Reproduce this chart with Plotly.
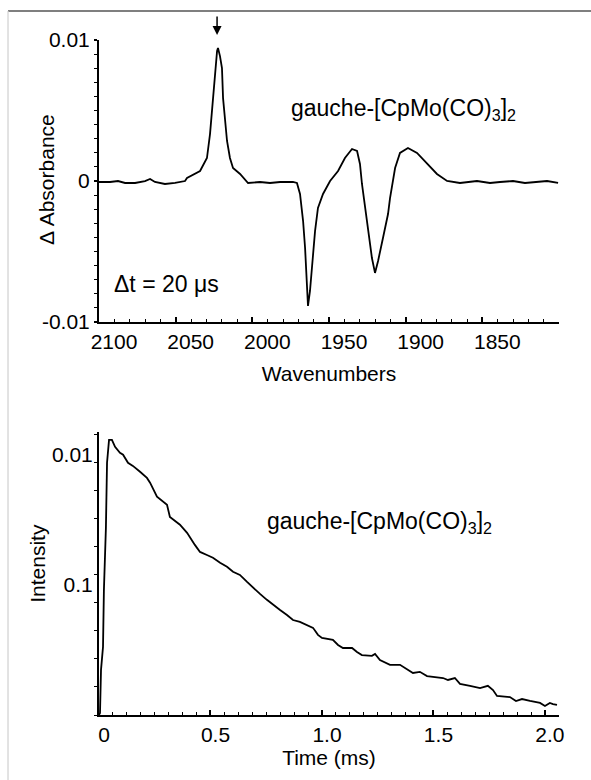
import plotly.graph_objects as go
from plotly.subplots import make_subplots

# ---- Top panel: transient IR difference spectrum ----
wavenumber = [2100.0, 2092.8, 2087.6, 2083.0, 2076.5, 2070.0, 2066.7, 2063.5, 2057.0, 2050.4,
              2043.9, 2042.6, 2034.1, 2029.6, 2027.6, 2025.6, 2024.3, 2023.0, 2022.4, 2021.1,
              2019.8, 2019.1, 2016.5, 2014.6, 2012.6, 2008.0, 2002.8, 1995.0, 1988.5, 1981.9,
              1973.5, 1970.9, 1968.9, 1966.9, 1965.6, 1964.3, 1963.7, 1962.4, 1961.1, 1959.1,
              1957.2, 1953.9, 1949.3, 1944.1, 1939.6, 1935.0, 1931.7, 1929.8, 1928.5, 1926.5,
              1924.6, 1922.0, 1920.0, 1918.0, 1914.8, 1911.5, 1910.2, 1908.3, 1906.9, 1903.7,
              1898.5, 1892.6, 1886.1, 1879.6, 1873.0, 1864.6, 1853.5, 1845.0, 1838.5, 1830.0,
              1822.2, 1807.8, 1800.6]
delta_abs = [-0.00007, -0.00007, 0.0, -0.00014, -0.00014, 0.0, 0.00014, -0.00007, -0.00021, -0.00014,
             0.0, 0.00021, 0.00071, 0.00163, 0.00333, 0.00617, 0.00801, 0.00922, 0.00943, 0.00886,
             0.00801, 0.00588, 0.00284, 0.00163, 0.00092, 0.00050, -0.00014, -0.00007, -0.00014, -0.00007,
             -0.00007, -0.00014, -0.00092, -0.00284, -0.00475, -0.00709, -0.00886, -0.00780, -0.00588, -0.00355,
             -0.00191, -0.00092, 0.0, 0.00071, 0.00163, 0.00227, 0.00213, 0.00121, -0.00021, -0.00191,
             -0.00355, -0.00546, -0.00652, -0.00567, -0.00404, -0.00234, -0.00121, -0.00014, 0.00092, 0.00199,
             0.00234, 0.00199, 0.00121, 0.00050, 0.0, -0.00014, 0.0, -0.00014, -0.00007, 0.0,
             -0.00014, 0.0, -0.00014]

# ---- Bottom panel: kinetic trace (arbitrary units, axis labelled as in original) ----
time_ms = [0.0, 0.0045, 0.009, 0.018, 0.022, 0.031, 0.036, 0.045, 0.058, 0.072,
           0.094, 0.108, 0.130, 0.152, 0.184, 0.215, 0.229, 0.260, 0.305, 0.318,
           0.363, 0.395, 0.430, 0.453, 0.484, 0.511, 0.543, 0.574, 0.601, 0.632,
           0.664, 0.691, 0.722, 0.753, 0.780, 0.812, 0.843, 0.870, 0.901, 0.933,
           0.960, 0.982, 1.0, 1.049, 1.072, 1.094, 1.135, 1.157, 1.179, 1.224,
           1.238, 1.260, 1.305, 1.350, 1.372, 1.408, 1.439, 1.471, 1.543, 1.565,
           1.596, 1.619, 1.664, 1.709, 1.744, 1.767, 1.785, 1.843, 1.870, 1.897,
           1.933, 1.978, 2.0, 2.022, 2.036, 2.054]
intensity = [0.0, 0.07, 1.61, 2.43, 4.46, 6.68, 9.0, 9.82, 9.82, 9.57,
             9.36, 9.29, 9.0, 8.89, 8.68, 8.46, 8.29, 7.79, 7.5, 7.07,
             6.79, 6.5, 6.07, 5.82, 5.71, 5.61, 5.43, 5.29, 5.11, 5.0,
             4.75, 4.54, 4.32, 4.11, 3.93, 3.75, 3.57, 3.39, 3.32, 3.21,
             3.11, 2.86, 2.75, 2.68, 2.5, 2.39, 2.39, 2.25, 2.14, 2.11,
             2.18, 1.96, 1.79, 1.79, 1.68, 1.5, 1.54, 1.39, 1.32, 1.25,
             1.32, 1.11, 1.04, 0.96, 1.04, 0.89, 0.68, 0.64, 0.5, 0.57,
             0.5, 0.43, 0.32, 0.43, 0.39, 0.36]

top_xticks = [2100, 2050, 2000, 1950, 1900, 1850]
top_yticks = [-0.01, 0, 0.01]
top_yticktext = ["-0.01", "0", "0.01"]
bot_xticks = [0, 0.5, 1.0, 1.5, 2.0]
bot_xticktext = ["0", "0.5", "1.0", "1.5", "2.0"]
bot_yticks = [4.64, 9.29]
bot_yticktext = ["0.1", "0.01"]

FONT = "Liberation Sans, Arial, Helvetica, sans-serif"
FS = 21
FA = 23

fig = make_subplots(rows=2, cols=1, vertical_spacing=0.0)

fig.add_trace(go.Scatter(x=wavenumber, y=delta_abs, mode="lines",
                         line=dict(color="black", width=1.8), showlegend=False),
              row=1, col=1)
fig.add_trace(go.Scatter(x=time_ms, y=intensity, mode="lines",
                         line=dict(color="black", width=1.8), showlegend=False),
              row=2, col=1)

tickfont = dict(family=FONT, size=FS, color="black")

fig.update_layout(
    xaxis=dict(domain=[0, 1], anchor="y", range=[2100, 1800],
               showline=True, linecolor="black", linewidth=2, showgrid=False, zeroline=False,
               tickfont=tickfont, tickcolor="black",
               tickvals=top_xticks, ticks="inside", ticklen=5, tickwidth=1.5,
               ticklabelshift=-15,
               minor=dict(dtick=10, tick0=2100, ticks="inside", ticklen=3, tickwidth=1, tickcolor="black"),
               title=dict(text="Wavenumbers", font=dict(family=FONT, size=FS, color="black"), standoff=14)),
    yaxis=dict(domain=[0.5822, 1.0], anchor="x", range=[-0.01, 0.01],
               showline=True, linecolor="black", linewidth=2, showgrid=False, zeroline=False,
               tickfont=tickfont, tickcolor="black",
               tickvals=top_yticks, ticktext=top_yticktext, ticks="outside", ticklen=3, tickwidth=1.5,
               minor=dict(dtick=0.001, tick0=0, ticks="outside", ticklen=3, tickwidth=1, tickcolor="black")),
    xaxis2=dict(domain=[0, 1], anchor="y2", range=[0, 2.063],
                showline=True, linecolor="black", linewidth=2, showgrid=False, zeroline=False,
                tickfont=tickfont, tickcolor="black",
                tickvals=bot_xticks, ticktext=bot_xticktext, ticks="inside", ticklen=5, tickwidth=1.5,
                ticklabelshift=5,
                minor=dict(dtick=0.0625, tick0=0, ticks="inside", ticklen=3, tickwidth=1, tickcolor="black"),
                title=dict(text="Time (ms)", font=dict(family=FONT, size=FS, color="black"), standoff=2)),
    yaxis2=dict(domain=[0, 0.4193], anchor="x2", range=[0, 10.1],
                showline=True, linecolor="black", linewidth=2, showgrid=False, zeroline=False,
                tickfont=tickfont, tickcolor="black",
                tickvals=bot_yticks, ticktext=bot_yticktext, ticks="",
                minor=dict(dtick=1, tick0=0, ticks="outside", ticklen=3, tickwidth=1, tickcolor="black")),
    width=591, height=780,
    margin=dict(l=99, r=32, t=40, b=65),
    plot_bgcolor="white", paper_bgcolor="white",
    font=dict(family=FONT, size=FS, color="black"),
    showlegend=False,
)

# frame lines of the original figure
fig.add_shape(type="line", xref="paper", yref="paper", x0=-0.1978, x1=1.07, y0=1.043, y1=1.043,
              line=dict(color="#555555", width=1.5))
fig.add_shape(type="line", xref="paper", yref="paper", x0=-0.1978, x1=-0.1978, y0=1.043, y1=-0.1,
              line=dict(color="#d0d0d0", width=1.2))

# y axis titles (placed as in the original, close to the tick labels)
fig.add_annotation(x=-0.113, xref="paper", y=0.7926, yref="paper", text="Δ Absorbance",
                   textangle=-90, showarrow=False, xanchor="center", yanchor="middle",
                   font=dict(family=FONT, size=FS, color="black"))
fig.add_annotation(x=-0.133, xref="paper", y=0.2252, yref="paper", text="Intensity",
                   textangle=-90, showarrow=False, xanchor="center", yanchor="middle",
                   font=dict(family=FONT, size=FS, color="black"))

# arrow marking the peak
fig.add_annotation(x=2023, xref="x", y=1.0074, yref="paper", text="", showarrow=True,
                   ax=0, ay=-20, arrowhead=2, arrowsize=1.2, arrowwidth=1.5, arrowcolor="black")
fig.add_annotation(x=1976.1, xref="x", y=0.0051, yref="y", xanchor="left", yanchor="middle",
                   text="gauche-[CpMo(CO)<sub>3</sub>]<sub>2</sub>", showarrow=False,
                   font=dict(family=FONT, size=FA, color="black"))
fig.add_annotation(x=2091.5, xref="x", y=-0.0073, yref="y", xanchor="left", yanchor="middle",
                   text="Δt = 20 μs", showarrow=False,
                   font=dict(family=FONT, size=FA, color="black"))
fig.add_annotation(x=0.744, xref="x2", y=6.86, yref="y2", xanchor="left", yanchor="middle",
                   text="gauche-[CpMo(CO)<sub>3</sub>]<sub>2</sub>", showarrow=False,
                   font=dict(family=FONT, size=FA, color="black"))

fig.write_html("out.html", config={"displayModeBar": False},
               post_script="document.body.style.margin='0';document.body.style.overflow='hidden';")
